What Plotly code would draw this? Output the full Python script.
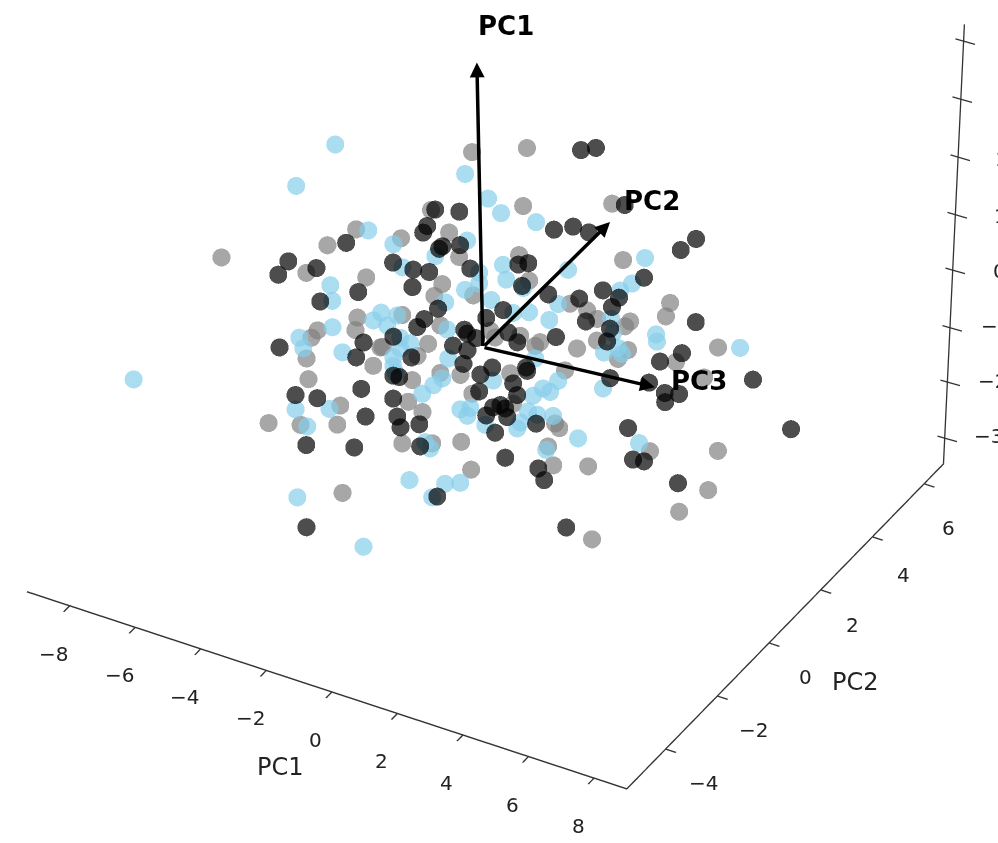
import numpy as np
import plotly.graph_objects as go

black_pc1 = [-1.19,-2.19,-3.17,-2.03,-5.72,-1.05,-1.86,-2.64,-3.70,-5.82,-3.79,-3.58,-1.86,-3.03,-0.91,-0.94,-4.88,-3.75,-2.05,
0.13,-0.40,-2.39,-1.25,0.10,-1.68,-1.88,-4.60,-1.75,1.55,-1.76,0.66,-0.37,1.11,0.81,0.62,2.23,-0.13,4.48,2.99,1.74,
1.57,0.04,2.42,1.55,0.85,2.73,2.84,1.60,1.83,1.91,3.75,4.16,1.04,0.60,0.92,4.21,3.34,-2.26,-2.39,0.16,1.09,0.03,-0.16,
0.94,-3.84,-2.93,-3.13,-2.55,-0.24,-1.48,-0.12,-1.28,-2.52,-2.95,-0.23,1.87,-3.62,1.39,0.26,2.77,2.61,1.03,0.67,1.66,
-0.11,2.13,1.48,1.10,3.47,2.35,3.87,3.28,4.85,3.74,5.18,7.40,1.94,4.86,4.16,6.88,6.22,4.09,6.14,8.72]
black_pc2 = [0.0,2.2,2.2,0.6,2.3,0.1,1.0,2.8,-2.5,-0.2,-1.3,1.4,0.0,2.1,1.0,-1.2,1.7,-1.2,1.2,-2.1,-1.7,-0.1,1.2,-0.4,2.2,-1.9,
-1.7,1.4,-1.5,-0.2,-1.1,4.6,3.3,4.8,2.3,1.0,4.6,2.9,4.2,-0.5,0.1,1.8,3.5,0.9,3.9,0.6,2.0,3.3,-1.2,1.9,0.5,3.3,0.0,2.4,
0.5,-0.2,3.8,-1.7,-0.1,-3.1,-1.8,0.2,0.9,-1.0,0.5,-3.2,-2.1,0.1,-3.9,-1.1,-2.7,-0.5,-3.3,-0.9,-1.8,-3.8,-1.9,-1.3,0.4,
-2.5,-2.5,0.7,1.2,-0.6,1.8,-1.5,-0.6,1.0,-3.2,-0.5,-2.2,-0.6,-0.2,1.4,0.0,-1.5,2.8,0.6,2.1,-0.8,-0.5,2.0,3.0,1.2]
black_pc3 = [2.23,0.97,0.53,1.38,-0.30,1.56,0.94,0.01,2.01,0.29,1.31,0.18,1.04,-0.21,0.77,1.47,-0.73,0.68,-0.25,1.53,1.10,-0.20,
-0.47,0.47,-1.17,0.64,-0.06,-0.94,1.54,-0.40,0.61,1.28,2.21,0.44,1.14,2.11,-0.13,1.43,0.34,2.05,1.76,0.27,0.07,0.83,
-0.64,1.12,0.50,-0.51,1.59,-0.05,0.83,-0.29,0.48,-0.81,0.05,1.02,-1.23,0.21,-0.89,0.98,0.78,-0.55,-0.79,-0.11,-1.68,
0.12,-0.49,-1.42,0.58,-0.97,-0.15,-1.35,-0.64,-1.89,-0.93,-0.48,-2.96,-0.31,-1.18,0.70,0.18,-0.47,-0.83,-0.02,-1.69,
0.05,-0.65,-1.59,0.23,-1.44,-0.56,-2.26,-0.39,-1.91,-1.01,-0.27,-1.47,0.04,-0.98,0.88,0.47,-0.39,-0.79,-0.33]

gray_pc1 = [-5.74,-2.51,-3.29,-3.68,-4.44,-3.77,-1.79,-2.51,-3.15,-3.69,-0.66,-2.32,-0.19,-3.22,-3.09,-2.73,-5.52,-2.60,-1.96,
-0.59,0.15,-1.31,-1.11,2.08,-1.55,1.36,2.57,2.98,5.77,1.35,3.05,1.78,3.81,2.16,0.93,2.64,-0.19,2.82,2.01,7.28,4.85,
-0.22,-0.39,-3.46,-3.79,-2.77,-1.10,-2.17,-0.93,-4.46,-2.46,-3.23,-0.16,-1.88,-0.02,1.89,-0.41,-1.18,-3.02,1.55,0.62,
0.02,-2.05,2.77,1.94,5.68,5.75,1.52,4.41,2.41,3.91,3.16,5.60,5.62,6.98,7.75,3.20,1.49,0.72]
gray_pc2 = [-2.5,3.1,2.5,0.1,2.8,-0.9,1.3,2.6,-2.5,0.5,-0.4,1.4,0.2,1.3,-0.6,-2.6,0.7,-1.3,0.7,-2.8,-1.5,3.7,3.3,2.7,3.7,0.4,
2.5,3.8,0.1,2.0,0.5,2.5,1.2,3.1,0.6,-0.8,2.6,0.4,2.2,0.2,-0.2,0.9,1.3,-2.1,0.9,-2.9,-1.0,0.2,-4.0,-2.3,-3.6,-1.2,-1.8,
-0.4,-1.6,-2.9,0.4,-3.6,0.2,-2.5,-2.1,-0.1,0.4,0.0,3.1,0.6,1.6,1.2,-2.3,-0.2,-1.9,0.4,-0.3,2.3,0.2,-1.9,0.5,-0.5,0.6]
gray_pc3 = [1.69,1.54,0.65,1.36,-0.21,1.53,1.10,-0.08,1.91,0.32,1.20,-0.17,0.81,-0.63,0.24,1.02,-1.19,0.44,-0.62,1.23,1.14,1.56,
0.76,1.69,-0.38,1.27,0.88,-0.41,1.62,0.11,1.02,-0.31,0.64,-0.65,0.12,0.99,-1.21,0.35,-0.51,1.31,0.99,-0.15,-0.49,0.15,
-1.45,0.29,-0.30,-1.45,0.69,-1.09,-0.13,-1.40,-0.31,-1.85,-0.93,0.07,-2.41,-1.09,-0.65,1.00,0.67,-0.75,-0.71,0.14,
-1.27,0.56,-0.17,-1.60,0.51,-1.18,-0.43,-1.67,-0.61,-1.82,-1.27,-0.52,-3.00,0.08,-1.12]

blue_pc1 = [-4.24,-6.30,-2.88,-0.84,-5.36,-2.23,-1.32,-3.08,-0.93,-1.11,0.23,-1.62,-3.68,-5.04,-1.20,1.07,-4.18,-2.29,-2.98,
-1.96,-3.05,-1.22,-4.82,-2.68,-3.44,-0.77,-2.26,-2.02,1.73,-0.62,0.82,-0.32,1.76,1.90,3.00,3.98,-0.04,1.28,-0.23,3.08,
5.31,3.84,5.43,3.31,1.78,3.92,-1.84,-2.94,-0.04,-2.10,0.31,-1.21,-0.14,-1.90,-3.56,-1.58,-4.70,0.68,-0.21,2.09,2.23,
-0.55,-0.79,0.23,-0.81,1.86,0.61,-3.74,-0.54,0.42,3.88,2.77,1.94,1.14,2.02,3.42,0.30,3.85,1.17,3.74,3.75,1.47,1.09,
3.80,1.17,5.66,-7.71]
blue_pc2 = [0.0,1.1,3.3,1.6,2.7,-0.3,1.4,2.4,-1.6,1.6,-0.1,1.7,-0.9,0.9,0.4,-0.7,1.7,-1.0,0.8,-3.0,-2.9,0.5,-0.5,-1.7,1.5,-1.5,
-0.5,3.6,0.2,1.9,0.2,2.3,1.4,4.2,2.3,0.6,3.3,0.5,1.8,-1.0,0.3,2.2,3.4,1.1,3.3,0.4,-0.8,0.6,-3.0,-0.2,-1.4,0.3,-1.4,0.4,
-2.4,-3.6,-0.5,-1.4,0.0,-2.8,-2.4,-1.2,-0.7,-2.8,-0.1,-2.9,-2.4,-2.1,-3.6,0.2,0.1,2.2,-0.1,1.8,0.1,-1.4,1.9,0.1,0.6,
-2.3,-1.7,-0.2,0.4,-0.8,1.3,-0.8,-3.4]
blue_pc3 = [2.80,1.16,0.99,1.74,-0.20,1.56,1.00,-0.08,2.01,0.38,1.24,-0.07,0.84,-0.54,0.40,1.39,-0.96,0.53,-0.36,1.41,0.97,
-0.13,-0.68,0.22,-1.17,0.65,0.21,0.32,2.47,0.47,1.28,-0.07,1.07,-0.01,0.64,1.50,-0.77,0.65,-0.26,1.56,1.12,-0.18,-0.55,
0.64,-1.20,0.83,-0.13,-1.15,0.97,-0.31,0.54,-0.90,-0.02,-1.35,-0.63,0.32,-2.04,-0.29,-1.23,0.66,0.20,-1.20,-1.59,-0.97,
-2.50,-0.66,-1.39,-2.36,-1.92,-0.58,0.62,-0.60,0.24,-1.20,-0.37,0.54,-1.67,-0.02,-1.17,0.62,0.32,-1.04,-1.29,-0.49,
-2.18,-0.22,-0.42]

pc1_ticks = [-8,-6,-4,-2,0,2,4,6,8]
pc1_labels = ['−8','−6','−4','−2','0','2','4','6','8']
pc2_ticks = [-4,-2,0,2,4,6]
pc2_labels = ['−4','−2','0','2','4','6']
pc3_ticks = [-3,-2,-1,0,1,2,3,4]
pc3_labels = ['−3','−2','−1','0','1','2']
PC1_RANGE = [-9.3, 9]
PC2_RANGE = [-5.5, 6.75]
PC3_RANGE = [-3.5, 4.3]

FONT = 'DejaVu Sans'
INK = '#222'
ZOOM = 1.635
e = np.radians(35.5); a = np.radians(29.5)
view = np.array([np.cos(e)*np.sin(a), -np.cos(e)*np.cos(a), np.sin(e)])
center = np.array([0.1058, -0.1208, -0.2205])
eye = center + 3.0*view

def cloud(x, y, z, color):
    return go.Scatter3d(x=x, y=y, z=z, mode='markers', hoverinfo='skip',
                        marker=dict(size=10.5, color=color, opacity=0.7, line=dict(width=0)))

fig = go.Figure([cloud(gray_pc1, gray_pc2, gray_pc3, 'gray'),
                 cloud(blue_pc1, blue_pc2, blue_pc3, 'skyblue'),
                 cloud(black_pc1, black_pc2, black_pc3, 'black')])

xlo, xhi = PC1_RANGE
ylo, yhi = PC2_RANGE
zlo, zhi = PC3_RANGE
tick_font = dict(family=FONT, size=20, color=INK)
title_font = dict(family=FONT, size=24, color=INK)
rule = dict(text='', showarrow=True, arrowhead=0, arrowwidth=1.3, arrowcolor='#333', standoff=0)
ann = []

# PC1 and PC2 tick labels and titles sit well clear of the axes
for t, s in zip(pc1_ticks, pc1_labels):
    ann.append(dict(x=t, y=ylo, z=zlo, text=s, showarrow=False, xshift=-16, yshift=-48, font=tick_font))
dx2 = [38, 36, 36, 32, 31, 24]
dy2 = [-34, -34, -34, -35, -38, -44]
for t, s, dx, dy in zip(pc2_ticks, pc2_labels, dx2, dy2):
    ann.append(dict(x=xhi, y=t, z=zlo, text=s, showarrow=False, xshift=dx, yshift=dy, font=tick_font))
ann.append(dict(x=0, y=ylo, z=zlo, text='PC1', showarrow=False, xshift=-51, yshift=-75, font=title_font))
ann.append(dict(x=xhi, y=0, z=zlo, text='PC2', showarrow=False, xshift=86, yshift=-39, font=title_font))

# PC3 axis on the right-hand vertical edge, leaning as in the view
ann.append(dict(rule, x=xhi, y=yhi, z=zlo, ax=21, ay=-441))
dx3 = [4, 7, 9, 12, 14, 17, 19, 22]
dy3 = [-3.5, -4, -6, -5, -6, -5, -3.5, -2]
for t, dx, dy in zip(pc3_ticks, dx3, dy3):
    ann.append(dict(rule, x=xhi, y=yhi, z=t, ax=21, ay=6, xshift=dx-10, yshift=dy+3))
lx3 = [29, 33, 36, 48, 49, 51]
ly3 = [0.5, 2, 3.5, 5, 6.5, 6]
for t, s, dx, dy in zip(pc3_ticks, pc3_labels, lx3, ly3):
    ann.append(dict(x=xhi, y=yhi, z=t, text=s, showarrow=False, xanchor='left', xshift=dx, yshift=-dy, font=tick_font))

arrow = dict(text='', showarrow=True, arrowhead=2, arrowsize=0.85, arrowwidth=3.5, arrowcolor='black', standoff=0)
ann += [dict(arrow, x=-1.49, y=2, z=3.83, ax=6, ay=285),
        dict(arrow, x=4.15, y=0, z=3.02, ax=-127, ay=125),
        dict(arrow, x=5.52, y=0, z=0.36, ax=-172, ay=-40)]
label = dict(showarrow=False, font=dict(family=FONT, size=26, color='black'))
ann += [dict(label, x=-2.97, y=5, z=2.78, text='<b>PC1</b>'),
        dict(label, x=5.43, y=0, z=3.64, text='<b>PC2</b>'),
        dict(label, x=6.86, y=0, z=0.73, text='<b>PC3</b>')]

axis = dict(showbackground=False, showgrid=False, zeroline=False, showspikes=False, showline=True,
            linecolor='#333', linewidth=3, ticks='outside', ticklen=12, tickcolor='#333', tickwidth=3,
            showticklabels=False, title=dict(text=''))

fig.update_layout(
    width=998, height=843, margin=dict(l=0, r=0, t=0, b=0), paper_bgcolor='white', showlegend=False,
    scene=dict(domain=dict(x=[0, 1], y=[0, 1]), aspectmode='manual',
               aspectratio=dict(x=1*ZOOM, y=.933*ZOOM, z=.786*ZOOM),
               xaxis=dict(axis, range=PC1_RANGE, tickvals=pc1_ticks),
               yaxis=dict(axis, range=PC2_RANGE, tickvals=pc2_ticks),
               zaxis=dict(visible=False, range=PC3_RANGE),
               camera=dict(eye=dict(x=eye[0], y=eye[1], z=eye[2]), center=dict(x=center[0], y=center[1], z=center[2]),
                           up=dict(x=0, y=0, z=1), projection=dict(type='orthographic')),
               annotations=ann))
fig.write_html('out.html', config=dict(displayModeBar=False), post_script="document.body.style.margin='0';")
